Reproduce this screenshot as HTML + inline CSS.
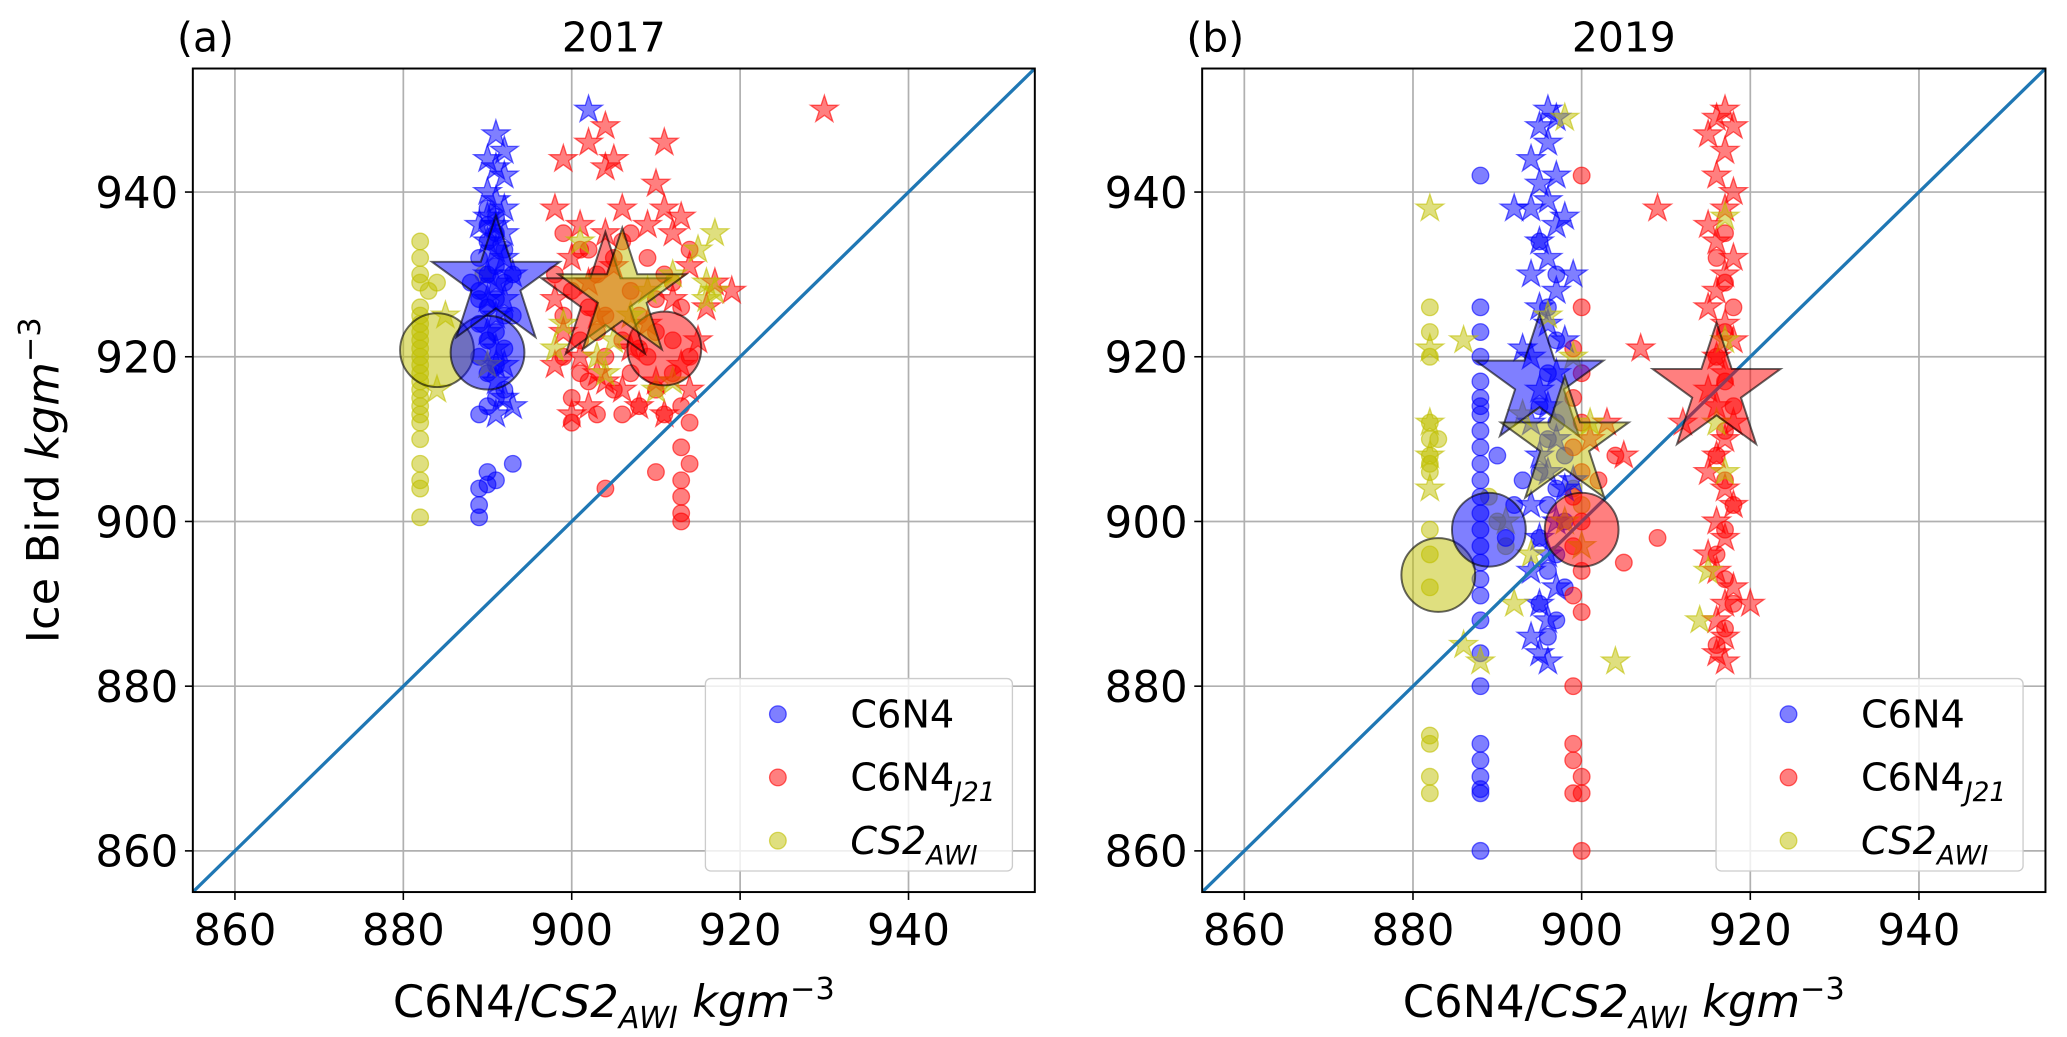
<!DOCTYPE html>
<html><head><meta charset="utf-8"><style>
html,body{margin:0;padding:0;background:#fff;}
svg{display:block;font-family:"DejaVu Sans","Liberation Sans",sans-serif;}
</style></head><body>
<svg id="chart" width="2067" height="1037" viewBox="0 0 1568 787" xmlns="http://www.w3.org/2000/svg"></svg>
<script>
const ticks=[860,880,900,920,940];
const domain=[855,955];
// Panel a (2017)
const a_blueCirc=[[889,900.5],[889,902],[889,904],[890,904.5],[890,906],[891,905],[893,907],[889,913],[890,914],[891,915],[892,916],[890,918],[891,919],[889,920],[892,921],[890,922],[891,923],[889,924],[892,925],[890,926],[891,927],[889,928],[892,929],[890,930],[891,931],[889,932],[892,933],[890,934],[891,935],[890,936],[891,937],[890,938],[889,927],[893,925],[888,929],[893,930]];
const a_blueStar=[[891,947],[892,945],[890,944],[891,943],[892,942],[890,940],[891,939],[892,938],[890,937],[891,936],[892,935],[890,934],[891,933],[892,932],[890,930],[891,929],[892,927],[891,925],[890,923],[891,921],[892,919],[891,917],[892,915],[891,913],[893,914],[890,927],[893,930],[889,936],[902,950],[891,919]];
const a_redCirc=[[898,930],[899,925],[899,920],[900,915],[900,928],[901,922],[901,933],[902,917],[902,926],[903,913],[903,930],[904,920],[904,925],[905,916],[905,932],[906,913],[906,922],[907,928],[907,918],[908,914],[908,925],[909,932],[909,920],[910,916],[910,927],[911,913],[911,930],[912,922],[912,918],[913,926],[913,914],[914,920],[914,933],[899,935],[901,918],[903,923],[906,934],[908,921],[910,923],[912,929],[913,909],[914,912],[910,906],[913,905],[913,903],[913,901],[913,900],[904,904],[914,907],[900,912],[902,933],[907,935]];
const a_redStar=[[930,950],[904,948],[902,946],[911,946],[905,944],[904,943],[910,941],[911,938],[899,944],[898,938],[901,936],[904,935],[906,938],[909,936],[912,935],[914,931],[917,929],[919,928],[900,932],[902,929],[898,927],[899,923],[901,920],[903,918],[906,916],[908,914],[910,917],[913,919],[915,922],[916,926],[900,913],[902,914],[904,917],[907,921],[909,924],[911,913],[898,919],[903,925],[905,931],[912,927],[914,916],[913,937]];
const a_yelCirc=[[882,934],[882,932],[882,930],[882,929],[883,928],[882,926],[882,925],[882,924],[882,923],[882,922],[882,921],[882,920],[882,919],[882,918],[882,917],[882,916],[882,915],[882,914],[882,913],[882,912],[882,910],[882,907],[882,905],[882,904],[882,900.5],[889.5,930],[884,929]];
const a_yelStar=[[884,916],[890,919],[898,921],[899,924],[901,934],[903,920],[905,922],[907,925],[909,928],[912,930],[915,933],[917,935],[916,929],[917,928],[916,927],[912,917],[910,916],[904,918],[885,925]];
const a_means=[['circle','y',884,920.8],['circle','b',890,920.5],['circle','r',911,921],['star','b',891,929],['star','r',904,927],['star','y',906,927.5]];
// Panel b (2019)
const b_blueCirc=[[888,860],[888,867],[888,867.5],[888,869],[888,871],[888,873],[888,880],[888,884],[888,888],[888,891],[888,893],[888,895],[888,897],[888,899],[888,901],[888,903],[888,905],[888,907],[888,909],[888,911],[888,913],[888,914],[888,915],[888,917],[888,920],[888,923],[888,926],[888,942],[896,886],[897,888],[895,890],[898,892],[896,894],[897,896],[895,898],[898,900],[896,902],[897,904],[895,906],[898,908],[896,910],[897,912],[895,914],[896,918],[897,922],[896,926],[897,930],[895,934],[891,898],[892,902],[893,905],[890,908]];
const b_blueStar=[[896,950],[897,949],[895,948],[896,946],[894,944],[897,942],[895,941],[896,939],[898,937],[894,938],[897,936],[895,934],[896,932],[894,930],[897,928],[895,926],[896,924],[898,922],[894,920],[897,918],[895,916],[896,914],[894,912],[897,910],[895,908],[896,906],[898,904],[894,902],[897,900],[895,898],[896,896],[894,894],[897,892],[895,890],[896,888],[894,886],[895,884],[896,883],[892,938],[899,930],[893,921],[899,905]];
const b_redCirc=[[900,942],[900,926],[899,921],[900,918],[899,915],[900,912],[899,909],[900,906],[899,903],[900,900],[899,897],[900,894],[899,891],[900,889],[899,880],[899,873],[899,871],[900,869],[899,867],[900,867],[900,860],[905,895],[909,898],[902,905],[904,908],[917,935],[916,932],[917,929],[918,926],[917,923],[916,920],[917,917],[918,914],[917,911],[916,908],[917,905],[918,902],[917,899],[916,896],[917,893],[918,890],[917,887],[916,885]];
const b_redStar=[[917,950],[916,949],[918,948],[915,947],[917,945],[916,942],[918,940],[917,938],[915,936],[916,934],[918,932],[917,930],[916,928],[915,926],[917,924],[918,922],[916,920],[917,918],[915,916],[916,914],[918,912],[917,910],[916,908],[915,906],[917,904],[918,902],[916,900],[917,898],[915,896],[916,894],[918,892],[917,890],[916,888],[917,886],[916,884],[917,883],[909,938],[907,921],[901,910],[903,912],[905,908],[912,912],[920,890]];
const b_yelCirc=[[882,926],[882,923],[882,920],[882,912],[882,910],[882,908],[882,907],[882,906],[882,899],[882,896],[882,892],[882,874],[882,873],[882,869],[882,867],[889,903],[890,900],[891,897],[883,910],[899,904],[900,902]];
const b_yelStar=[[882,938],[882,921],[886,922],[882,912],[882,908],[882,904],[886,885],[888,883],[892,890],[894,896],[898,949],[896,925],[899,920],[901,912],[904,883],[917,937],[917,922],[916,912],[915,894],[914,888],[917,906],[893,913],[898,900],[900,897],[891,900]];
const b_means=[['circle','y',883,893.5],['circle','b',889,899],['circle','r',900,899],['star','b',895,917],['star','r',916,916],['star','y',898,909.5]];

const NS="http://www.w3.org/2000/svg";
const svg=document.getElementById('chart');
const COL={b:['rgba(0,0,255,0.5)','rgba(0,0,255,0.6)'],r:['rgba(255,0,0,0.5)','rgba(255,0,0,0.6)'],y:['rgba(191,191,0,0.5)','rgba(191,191,0,0.6)']};
function el(tag,attrs,parent){const e=document.createElementNS(NS,tag);for(const k in attrs)e.setAttribute(k,attrs[k]);(parent||svg).appendChild(e);return e;}
function starPath(cx,cy,R){const r=R*0.382;let d='';for(let i=0;i<10;i++){const rr=i%2?r:R;const a=-Math.PI/2+i*Math.PI/5;d+=(i?'L':'M')+(cx+rr*Math.cos(a)).toFixed(1)+','+(cy+rr*Math.sin(a)).toFixed(1);}return d+'Z';}
function panel(L,T,W,H,label,title,series,means,showY,key){
  const sx=v=>L+(v-domain[0])/(domain[1]-domain[0])*W;
  const sy=v=>T+H-(v-domain[0])/(domain[1]-domain[0])*H;
  const g=el('g',{});
  
  
  const clip=el('clipPath',{id:'clip'+key},g);el('rect',{x:L,y:T,width:W,height:H},clip);
  ticks.forEach(t=>{
    const gx=el('line',{x1:sx(t),x2:sx(t),y1:T,y2:T+H,stroke:'#b0b0b0','stroke-width':1.3},g);
    
    const gy=el('line',{x1:L,x2:L+W,y1:sy(t),y2:sy(t),stroke:'#b0b0b0','stroke-width':1.3},g);
    
    el('line',{x1:sx(t),x2:sx(t),y1:T+H,y2:T+H+6,stroke:'#000','stroke-width':1.2},g);
    el('line',{x1:L-6,x2:L,y1:sy(t),y2:sy(t),stroke:'#000','stroke-width':1.2},g);
    const xt=el('text',{x:sx(t),y:T+H+40,'text-anchor':'middle','font-size':33},g);xt.textContent=t;
    
    const yt=el('text',{x:L-11,y:sy(t)+12,'text-anchor':'end','font-size':33},g);yt.textContent=t;
    
  });
  const pg=el('g',{'clip-path':'url(#clip'+key+')'},g);
  series.forEach(([pts,shape,c])=>{
    pts.forEach(([x,y])=>{
      let m;
      if(shape==='circle')m=el('circle',{cx:sx(x),cy:sy(y),r:6.3,fill:COL[c][0],stroke:COL[c][1],'stroke-width':1},pg);
      else m=el('path',{d:starPath(sx(x),sy(y),11),fill:COL[c][0],stroke:COL[c][1],'stroke-width':1},pg);
      
      
    });
  });
  const dg=el('line',{x1:sx(domain[0]),y1:sy(domain[0]),x2:sx(domain[1]),y2:sy(domain[1]),stroke:'#1f77b4','stroke-width':2.5},pg);
  
  means.forEach(([shape,c,x,y])=>{
    let m;
    if(shape==='circle')m=el('circle',{cx:sx(x),cy:sy(y),r:28,fill:COL[c][0],stroke:'rgba(0,0,0,0.6)','stroke-width':1.5},pg);
    else m=el('path',{d:starPath(sx(x),sy(y),51),fill:COL[c][0],stroke:'rgba(0,0,0,0.6)','stroke-width':1.5},pg);
    
    
  });
  const fr=el('rect',{x:L,y:T,width:W,height:H,fill:'none',stroke:'#000','stroke-width':1.5},g);
  
  const lt=el('text',{x:L-12,y:T-13,'font-size':31},g);lt.textContent=label;
  
  const tt=el('text',{x:L+W/2,y:T-13,'font-size':31,'text-anchor':'middle'},g);tt.textContent=title;
  
  const xl=el('text',{x:L+W/2,y:T+H+95,'font-size':34,'text-anchor':'middle'},g);
  xl.innerHTML='C6N4/<tspan font-style="italic">CS2</tspan><tspan font-style="italic" font-size="23" dy="8">AWI</tspan><tspan dy="-8" font-style="italic"> kgm</tspan><tspan font-size="23" dy="-14">−3</tspan>';
  
  if(showY){
    const yl=el('text',{x:0,y:0,'font-size':34,'text-anchor':'middle',transform:'translate(44,'+(T+H/2)+') rotate(-90)'},g);
    yl.innerHTML='Ice Bird <tspan font-style="italic">kgm</tspan><tspan font-size="23" dy="-14">−3</tspan>';
    
  }
  const lx=L+W-250,ly=T+H-162;
  const lg=el('g',{},g);
  
  el('rect',{x:lx,y:ly,width:233,height:146,rx:4,fill:'rgba(255,255,255,0.8)',stroke:'#ccc'},lg);
  const ents=[['b','C6N4'],['r','C6N4<tspan font-style="italic" font-size="20" dy="8">J21</tspan>'],['y','<tspan font-style="italic">CS2</tspan><tspan font-style="italic" font-size="20" dy="8">AWI</tspan>']];
  ents.forEach(([c,txt],i)=>{
    const yy=ly+27+i*48;
    const e=el('circle',{cx:lx+55,cy:yy,r:6.3,fill:COL[c][0],stroke:COL[c][1]},lg);
    
    const t=el('text',{x:lx+110,y:yy+10,'font-size':29},lg);t.innerHTML=txt;
    
  });
}
panel(146,52,639,625,'(a)','2017',[[a_yelCirc,'circle','y'],[a_blueCirc,'circle','b'],[a_redCirc,'circle','r'],[a_blueStar,'star','b'],[a_redStar,'star','r'],[a_yelStar,'star','y']],a_means,true,'a');
panel(912,52,640,625,'(b)','2019',[[b_yelCirc,'circle','y'],[b_blueCirc,'circle','b'],[b_redCirc,'circle','r'],[b_blueStar,'star','b'],[b_redStar,'star','r'],[b_yelStar,'star','y']],b_means,false,'b');
</script>
</body></html>
